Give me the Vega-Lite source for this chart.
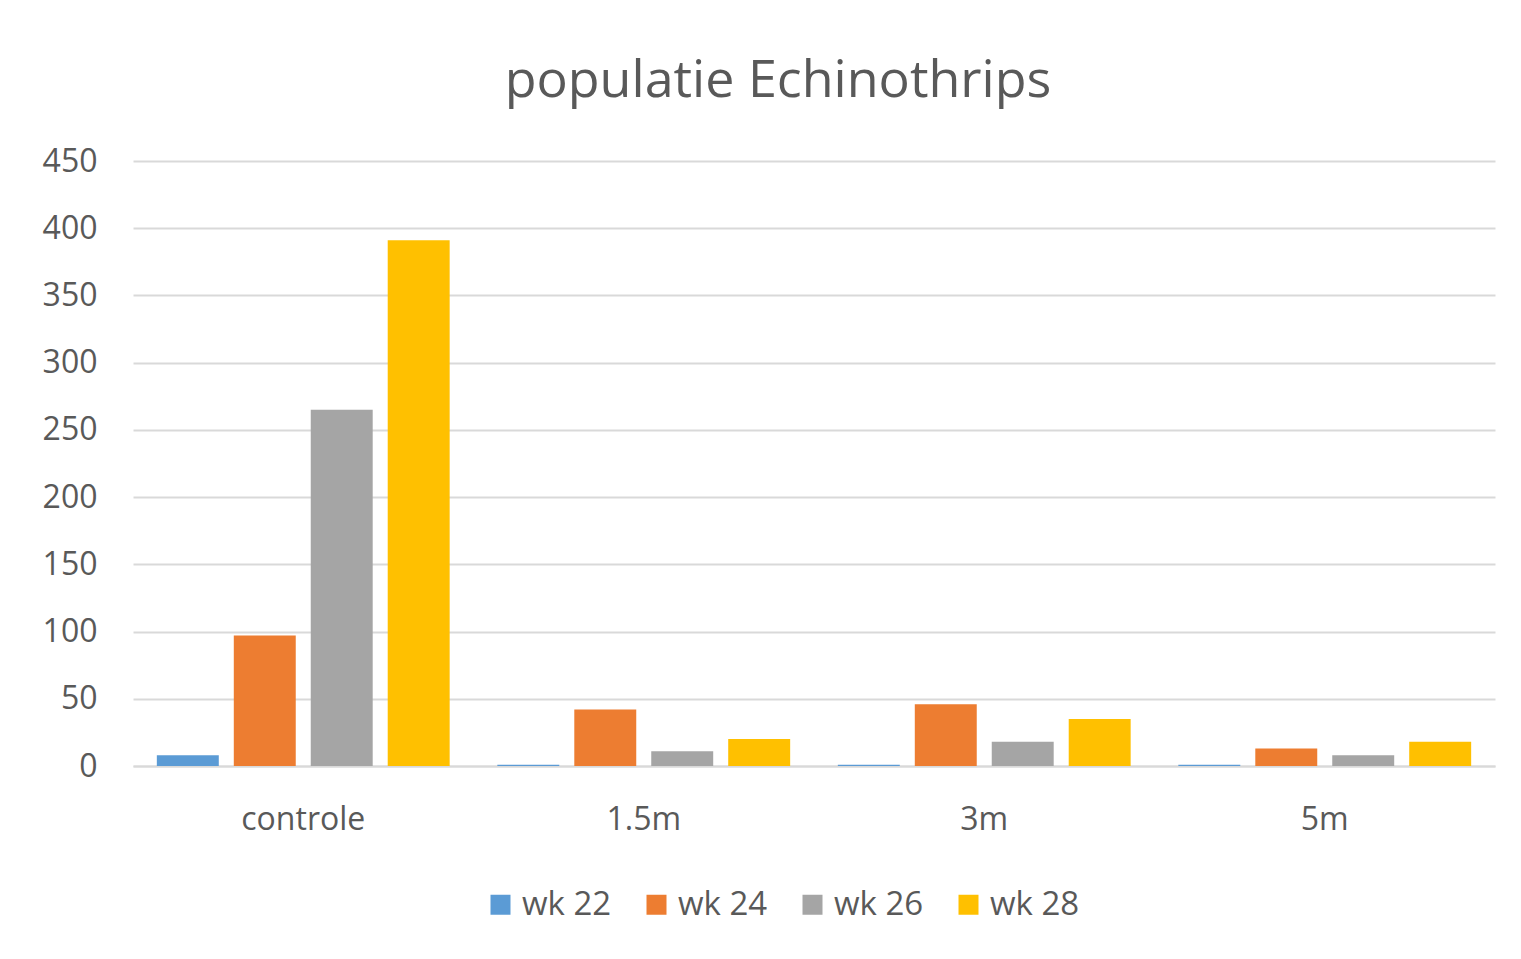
{
  "$schema": "https://vega.github.io/schema/vega-lite/v6.json",
  "autosize": "none",
  "width": 1362,
  "height": 605,
  "padding": {"left": 133, "top": 161, "right": 26, "bottom": 193},
  "background": "white",
  "title": {
    "text": "populatie Echinothrips",
    "font": "Open Sans",
    "fontSize": 52,
    "fontWeight": "normal",
    "color": "#595959",
    "anchor": "middle",
    "frame": "group",
    "dx": -36,
    "offset": 37
  },
  "data": {
    "values": [
      {"groep": "controle", "week": "wk 22", "aantal": 8},
      {"groep": "controle", "week": "wk 24", "aantal": 97},
      {"groep": "controle", "week": "wk 26", "aantal": 265},
      {"groep": "controle", "week": "wk 28", "aantal": 391},
      {"groep": "1.5m", "week": "wk 22", "aantal": 1},
      {"groep": "1.5m", "week": "wk 24", "aantal": 42},
      {"groep": "1.5m", "week": "wk 26", "aantal": 11},
      {"groep": "1.5m", "week": "wk 28", "aantal": 20},
      {"groep": "3m", "week": "wk 22", "aantal": 1},
      {"groep": "3m", "week": "wk 24", "aantal": 46},
      {"groep": "3m", "week": "wk 26", "aantal": 18},
      {"groep": "3m", "week": "wk 28", "aantal": 35},
      {"groep": "5m", "week": "wk 22", "aantal": 1},
      {"groep": "5m", "week": "wk 24", "aantal": 13},
      {"groep": "5m", "week": "wk 26", "aantal": 8},
      {"groep": "5m", "week": "wk 28", "aantal": 18}
    ]
  },
  "mark": {"type": "bar"},
  "encoding": {
    "x": {
      "field": "groep",
      "type": "nominal",
      "sort": ["controle", "1.5m", "3m", "5m"],
      "scale": {"paddingInner": 0.14, "paddingOuter": 0.07},
      "axis": {
        "title": null,
        "labelAngle": 0,
        "labelFont": "Open Sans",
        "labelFontSize": 32,
        "labelColor": "#595959",
        "labelPadding": 38,
        "ticks": false,
        "domainColor": "#d9d9d9",
        "domainWidth": 2
      }
    },
    "xOffset": {
      "field": "week",
      "type": "nominal",
      "sort": ["wk 22", "wk 24", "wk 26", "wk 28"],
      "scale": {"paddingInner": 0.195, "paddingOuter": 0}
    },
    "y": {
      "field": "aantal",
      "type": "quantitative",
      "scale": {"domain": [0, 450], "nice": false},
      "axis": {
        "title": null,
        "values": [0, 50, 100, 150, 200, 250, 300, 350, 400, 450],
        "labelFont": "Open Sans",
        "labelFontSize": 32,
        "labelColor": "#595959",
        "labelPadding": 36,
        "ticks": false,
        "domain": false,
        "gridColor": "#d9d9d9",
        "gridWidth": 2
      }
    },
    "color": {
      "field": "week",
      "type": "nominal",
      "sort": ["wk 22", "wk 24", "wk 26", "wk 28"],
      "scale": {
        "domain": ["wk 22", "wk 24", "wk 26", "wk 28"],
        "range": ["#5B9BD5", "#ED7D31", "#A5A5A5", "#FFC000"]
      },
      "legend": {
        "title": null,
        "orient": "none",
        "direction": "horizontal",
        "legendX": 351,
        "legendY": 727,
        "padding": 0,
        "symbolType": "square",
        "symbolSize": 400,
        "symbolStrokeWidth": 0,
        "labelFont": "Open Sans",
        "labelFontSize": 33,
        "labelColor": "#595959",
        "labelOffset": 5,
        "columnPadding": 28
      }
    }
  },
  "config": {
    "view": {"stroke": null}
  }
}
